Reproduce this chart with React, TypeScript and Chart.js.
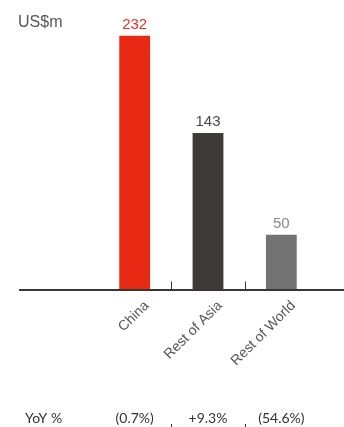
import React, { useEffect, useRef } from "react";
import { Chart, registerables } from "chart.js";

Chart.register(...registerables);

const categories = ["China", "Rest of Asia", "Rest of World"];
const revenue = [232, 143, 50];
const yoy = ["(0.7%)", "+9.3%", "(54.6%)"];
const barColors = ["#e82a14", "#3e3a39", "#737373"];
const valueColors = ["#e8321e", "#4a4a4a", "#888888"];
const unitLabel = "US$m";
const yoyLabel = "YoY %";

const overlay = {
  id: "overlay",
  afterDatasetsDraw(chart: any) {
    const { ctx, chartArea, scales } = chart;
    const x = scales.x;
    const meta = chart.getDatasetMeta(0);
    const base = chartArea.bottom;
    ctx.save();

    // unit label
    ctx.font = "16px 'Liberation Sans', Arial, sans-serif";
    ctx.fillStyle = "#555555";
    ctx.textAlign = "left";
    ctx.textBaseline = "alphabetic";
    ctx.fillText(unitLabel, 18, 27);

    // value labels
    ctx.font = "15px 'Liberation Sans', Arial, sans-serif";
    ctx.textAlign = "center";
    meta.data.forEach((bar: any, i: number) => {
      ctx.fillStyle = valueColors[i];
      ctx.fillText(String(revenue[i]), bar.x, bar.y - 7);
    });

    // axis line
    ctx.fillStyle = "#3a3434";
    ctx.fillRect(19, Math.round(base) - 1, 344 - 19, 2);

    // tick marks between categories
    ctx.strokeStyle = "#333333";
    ctx.lineWidth = 1;
    for (let i = 0; i < categories.length - 1; i++) {
      const bx = Math.round((x.getPixelForValue(i) + x.getPixelForValue(i + 1)) / 2) + 0.5;
      ctx.beginPath();
      ctx.moveTo(bx, base - 8);
      ctx.lineTo(bx, base);
      ctx.stroke();
      ctx.beginPath();
      ctx.moveTo(bx, 424);
      ctx.lineTo(bx, 427);
      ctx.stroke();
    }

    // rotated category labels
    ctx.font = "14px 'Liberation Sans', Arial, sans-serif";
    ctx.fillStyle = "#555555";
    categories.forEach((c, i) => {
      const cx = x.getPixelForValue(i);
      ctx.save();
      ctx.translate(cx + 12, base + 14);
      ctx.rotate(-Math.PI / 4);
      ctx.textAlign = "right";
      ctx.textBaseline = "middle";
      ctx.fillText(c, 0, 0);
      ctx.restore();
    });

    // YoY row
    ctx.font = "14px Lato, sans-serif";
    ctx.fillStyle = "#333333";
    ctx.textBaseline = "alphabetic";
    ctx.textAlign = "left";
    ctx.fillText(yoyLabel, 25, 423);
    ctx.textAlign = "center";
    yoy.forEach((t, i) => {
      ctx.fillText(t, x.getPixelForValue(i), 423);
    });

    ctx.restore();
  },
};

export default function App() {
  const ref = useRef<HTMLCanvasElement>(null);
  useEffect(() => {
    if (!ref.current) return;
    const chart = new Chart(ref.current, {
      type: "bar",
      data: {
        labels: categories,
        datasets: [
          {
            data: revenue,
            backgroundColor: barColors,
            borderWidth: 0,
            barPercentage: 0.42,
            categoryPercentage: 1,
          },
        ],
      },
      options: {
        responsive: false,
        animation: false,
        layout: { padding: { left: 98, right: 26, top: 16, bottom: 137.5 } },
        plugins: { legend: { display: false }, tooltip: { enabled: false } },
        scales: {
          x: { display: false },
          y: { display: false, min: 0, max: 250 },
        },
      },
      plugins: [overlay],
    });
    return () => chart.destroy();
  }, []);
  return (
    <div style={{ position: "fixed", left: 0, top: 0, width: 344, height: 427, background: "#fff" }}>
      <canvas ref={ref} width={344} height={427} />
    </div>
  );
}
